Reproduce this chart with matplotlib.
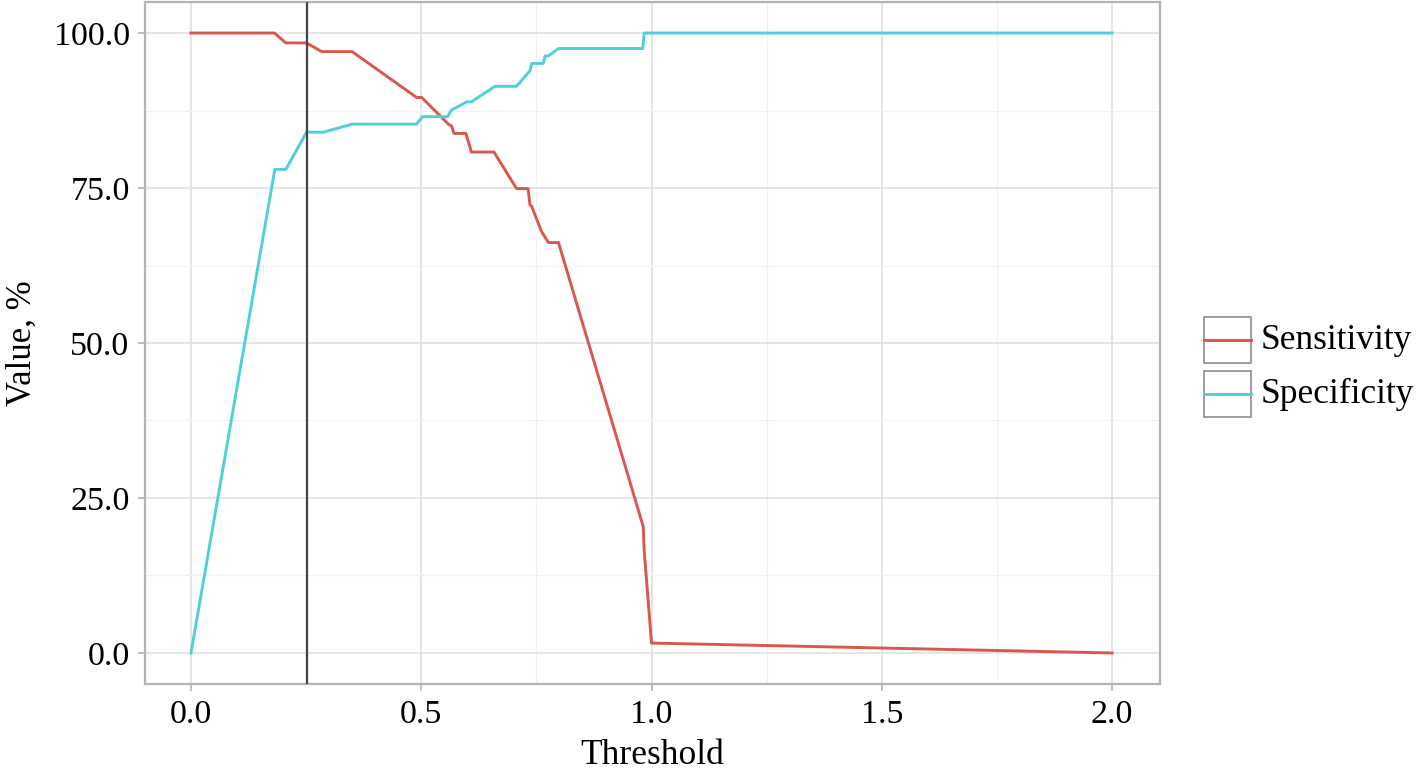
import matplotlib
matplotlib.use("Agg")
import matplotlib.pyplot as plt
from matplotlib.patches import Rectangle
from matplotlib.lines import Line2D

# datos
umbral_sens = [0, 0.181, 0.206, 0.251, 0.284, 0.350, 0.490, 0.501, 0.559, 0.566,
               0.571, 0.597, 0.609, 0.658, 0.707, 0.732, 0.736, 0.740, 0.761, 0.776,
               0.798, 0.982, 0.984, 1.0, 2.0]
sensibilidad = [100, 100, 98.4, 98.4, 97.0, 97.0, 89.6, 89.6, 85.3, 85.0,
                83.8, 83.8, 80.8, 80.8, 74.9, 74.9, 72.3, 72.0, 68.0, 66.2,
                66.2, 20.4, 16.6, 1.6, 0]

umbral_espec = [0, 0.182, 0.206, 0.251, 0.287, 0.350, 0.490, 0.503, 0.557, 0.566,
                0.599, 0.609, 0.660, 0.707, 0.736, 0.740, 0.765, 0.769, 0.776, 0.798,
                0.981, 0.984, 2.0]
especificidad = [0, 78.0, 78.0, 84.0, 84.0, 85.3, 85.3, 86.5, 86.5, 87.6,
                 88.9, 88.9, 91.4, 91.4, 93.9, 95.1, 95.1, 96.3, 96.3, 97.5,
                 97.5, 100, 100]

corte = 0.251
series = ["Sensitivity", "Specificity"]
colores = ["#d9574c", "#4fcfd7"]
x_ticks = [0.0, 0.5, 1.0, 1.5, 2.0]
y_ticks = [0.0, 25.0, 50.0, 75.0, 100.0]

plt.rcParams["font.family"] = ["Liberation Serif", "DejaVu Serif"]

fig = plt.figure(figsize=(14.17, 7.74), dpi=100)
ax = fig.add_axes([0.1023, 0.1163, 0.7163, 0.8811])

ax.plot(umbral_sens, sensibilidad, color=colores[0], lw=2.1, zorder=3)
ax.plot(umbral_espec, especificidad, color=colores[1], lw=2.1, zorder=3)
ax.axvline(corte, color="#444444", lw=1.6, zorder=4)

ax.set_xlim(-0.0999, 2.104)
ax.set_ylim(-5.0, 105.0)
ax.set_xticks(x_ticks)
ax.set_yticks(y_ticks)
ax.set_xticklabels([f"{v:.1f}" for v in x_ticks])
ax.set_yticklabels([f"{v:.1f}" for v in y_ticks])
ax.set_xticks([0.25, 0.75, 1.25, 1.75], minor=True)
ax.set_yticks([12.5, 37.5, 62.5, 87.5], minor=True)

ax.grid(which="major", color="#dedede", lw=1.1, zorder=0)
ax.grid(which="minor", color="#f1f1f1", lw=0.8, zorder=0)
ax.set_axisbelow(True)

for s in ax.spines.values():
    s.set_color("#b3b3b3")
    s.set_linewidth(1.6)

ax.tick_params(which="major", length=5, width=1.2, color="#b3b3b3",
               labelsize=24.5, labelcolor="black", pad=6)
ax.tick_params(which="minor", length=0)

ax.set_xlabel("Threshold", fontsize=25.5, labelpad=7)
ax.set_ylabel("Value, %", fontsize=25, labelpad=11)

# leyenda manual al estilo ggplot
W, H = 1417, 774
for i, (nombre, col) in enumerate(zip(series, colores)):
    top = 317 + i * 54
    x0, y0 = 1204 / W, (H - top - 46) / H
    fig.patches.append(Rectangle((x0, y0), 47 / W, 46 / H, transform=fig.transFigure,
                                 facecolor="white", edgecolor="#8c8c8c", lw=1.2))
    yc = (H - top - 23) / H
    fig.lines.append(Line2D([x0, x0 + 47 / W], [yc, yc], transform=fig.transFigure,
                            color=col, lw=2.1))
    fig.text(1261 / W, yc, nombre, fontsize=25.5, va="center", ha="left")

fig.savefig("out.png", dpi=100)
